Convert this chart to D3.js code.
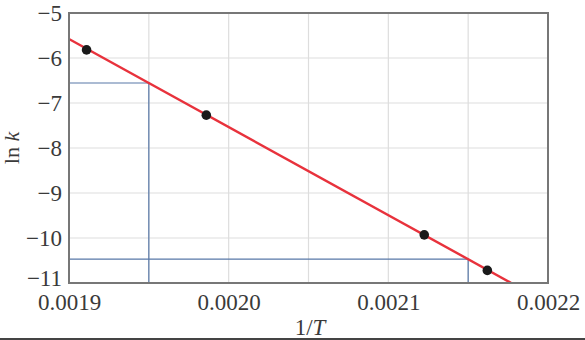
<!DOCTYPE html>
<html>
<head>
<meta charset="utf-8">
<script src="https://d3js.org/d3.v7.min.js"></script>
<style>
  body { margin: 0; background: #fff; }
  svg text { font-family: "Liberation Serif", "DejaVu Serif", serif; fill: #3a3a3a; }
</style>
</head>
<body>
<div id="chart"></div>
<script>
// data
var invT = [0.001911, 0.001986, 0.0021225, 0.002162];
var lnK = [-5.82, -7.27, -9.93, -10.72];
var fitX = [0.0019, 0.002177];
var fitY = [-5.578, -11];
var guideX = [0.00195, 0.00215];
var guideY = [-6.556, -10.47];
var xTicks = [0.0019, 0.0020, 0.0021, 0.0022];
var yTicks = [-5, -6, -7, -8, -9, -10, -11];

var width = 585, height = 340;
var plotL = 69, plotR = 548, plotT = 13, plotB = 283;

var svg = d3.select('#chart').append('svg')
  .attr('width', width)
  .attr('height', height);

var x = d3.scaleLinear().domain([0.0019, 0.0022]).range([plotL, plotR]);
var y = d3.scaleLinear().domain([-11, -5]).range([plotB, plotT]);

// grid
var xGrid = d3.range(0, 7).map(function(i) { return 0.0019 + i * 0.00005; });
svg.append('g').selectAll('line').data(xGrid).enter().append('line')
  .attr('x1', function(d) { return x(d); })
  .attr('x2', function(d) { return x(d); })
  .attr('y1', plotT).attr('y2', plotB)
  .attr('stroke', '#ddd').attr('stroke-width', 1.2);
svg.append('g').selectAll('line').data(yTicks).enter().append('line')
  .attr('y1', function(d) { return y(d); })
  .attr('y2', function(d) { return y(d); })
  .attr('x1', plotL).attr('x2', plotR)
  .attr('stroke', '#ddd').attr('stroke-width', 1.2);

// blue guide lines
guideX.forEach(function(gx, i) {
  svg.append('polyline')
    .attr('points', [[x(0.0019), y(guideY[i])], [x(gx), y(guideY[i])], [x(gx), y(-11)]].join(' '))
    .attr('fill', 'none')
    .attr('stroke', '#5878a8')
    .attr('stroke-width', 1.2);
});

// fit line
svg.append('line')
  .attr('x1', x(fitX[0])).attr('y1', y(fitY[0]))
  .attr('x2', x(fitX[1])).attr('y2', y(fitY[1]))
  .attr('stroke', '#e8323c').attr('stroke-width', 2.4);

// points
svg.append('g').selectAll('circle').data(invT).enter().append('circle')
  .attr('cx', function(d) { return x(d); })
  .attr('cy', function(d, i) { return y(lnK[i]); })
  .attr('r', 4.8)
  .attr('fill', '#1a1a1a');

// frame
svg.append('rect')
  .attr('x', plotL).attr('y', plotT)
  .attr('width', plotR - plotL).attr('height', plotB - plotT)
  .attr('fill', 'none').attr('stroke', '#777').attr('stroke-width', 2);

// axes
var xAxis = svg.append('g')
  .attr('transform', 'translate(0,' + plotB + ')')
  .call(d3.axisBottom(x).tickValues(xTicks).tickSize(0).tickPadding(11).tickFormat(d3.format('.4f')));
var yAxis = svg.append('g')
  .attr('transform', 'translate(' + plotL + ',0)')
  .call(d3.axisLeft(y).tickValues(yTicks).tickSize(0).tickPadding(7).tickFormat(d3.format('d')));
[xAxis, yAxis].forEach(function(a) {
  a.select('.domain').remove();
  a.selectAll('text').style('font-size', '23px').style('font-family', '"Liberation Serif", serif').attr('fill', '#3a3a3a');
});
xAxis.selectAll('text').attr('dy', '0.68em');
yAxis.selectAll('text')
  .text(function(d) { return '\u2212' + Math.abs(d); })
  .attr('dy', function(d) { return d === -11 ? '0.1em' : '0.32em'; });

// axis titles
var xl = svg.append('text')
  .attr('x', 310).attr('y', 335)
  .attr('text-anchor', 'middle')
  .style('font-size', '23px');
xl.append('tspan').text('1/');
xl.append('tspan').style('font-style', 'italic').text('T');

var yl = svg.append('text')
  .attr('transform', 'translate(19,148) rotate(-90)')
  .attr('text-anchor', 'middle')
  .style('font-size', '22px');
yl.append('tspan').text('ln ');
yl.append('tspan').style('font-style', 'italic').text('k');

// bottom rule
svg.append('line')
  .attr('x1', 0).attr('x2', width)
  .attr('y1', 339).attr('y2', 339)
  .attr('stroke', '#444').attr('stroke-width', 2);
</script>
</body>
</html>
